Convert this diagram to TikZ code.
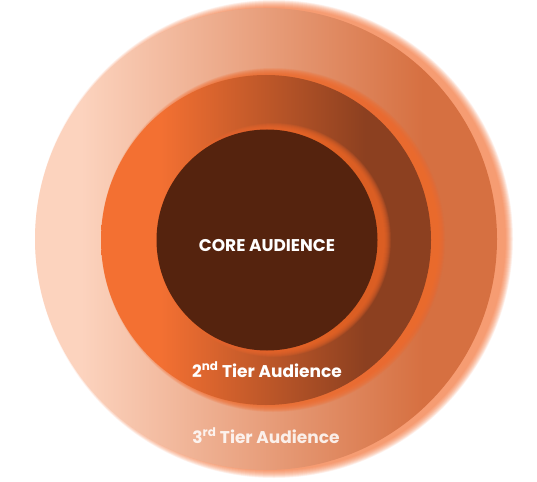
\documentclass[tikz,border=0pt]{standalone}
\usepackage{fontspec}
\setmainfont{Poppins}
\definecolor{peach}{HTML}{FCD3BE}
\definecolor{salmon}{HTML}{D67041}
\definecolor{tangerine}{HTML}{F37032}
\definecolor{rust}{HTML}{8C4020}
\definecolor{cocoa}{HTML}{55230E}
\definecolor{halo}{HTML}{F26A2C}
\pgfdeclarehorizontalshading{outershade}{100bp}{color(0bp)=(peach); color(30bp)=(peach); color(67bp)=(salmon); color(100bp)=(salmon)}
\pgfdeclarehorizontalshading{middleshade}{100bp}{color(0bp)=(tangerine); color(34bp)=(tangerine); color(65bp)=(rust); color(100bp)=(rust)}
\begin{document}
\begin{tikzpicture}[x=1pt, y=-1pt,
  ring/.style={circle, inner sep=0pt, minimum size=#1},
  tier/.style={anchor=base, text=white, font=\bfseries\fontsize{17}{19}\selectfont}]
\useasboundingbox (0,0) rectangle (537,481);
% outer ring and its glow
\foreach \k in {0.5,1,...,8}
  \fill[halo, opacity=0.065] (274,239) circle[radius=231+\k];
\node[ring=462pt, shading=outershade] (outer) at (266,239) {};
% middle ring
\foreach \k in {0.5,1,...,7}
  \fill[halo, opacity=0.11] (273,240) circle[radius=165+\k];
\node[ring=330pt, shading=middleshade] (middle) at (266,240) {};
% core
\foreach \k in {0.5,1,...,7}
  \fill[halo, opacity=0.11] (274,240) circle[radius=110+\k];
\node[ring=221pt, fill=cocoa] (core) at (267,240) {};
% labels
\node[tier] (corelabel) at (267,251) {CORE AUDIENCE};
\node[tier] (tiertwo) at (267,377) {2\textsuperscript{nd} Tier Audience};
\node[tier, text opacity=0.85] (tierthree) at (266,443) {3\textsuperscript{rd} Tier Audience};
\end{tikzpicture}
\end{document}
